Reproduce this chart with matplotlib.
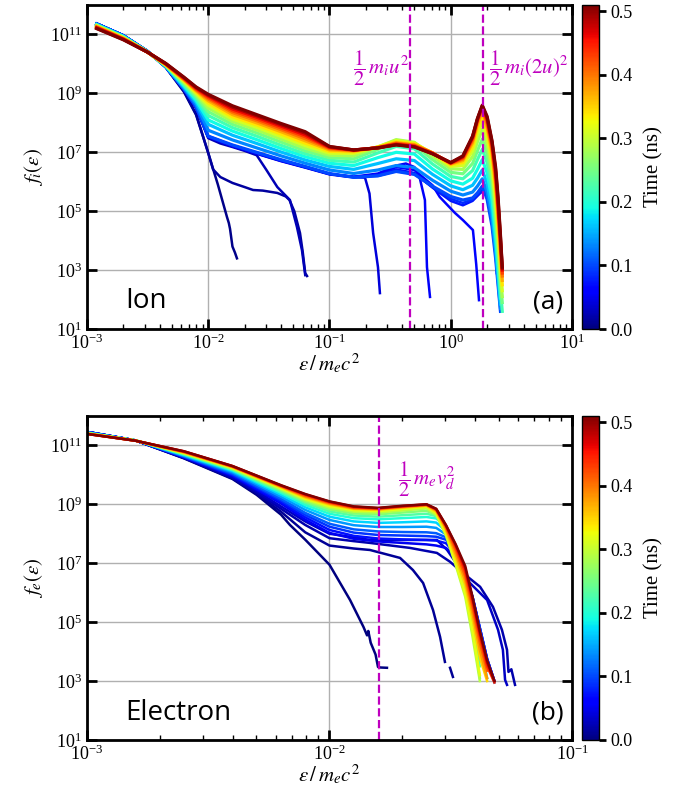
import numpy as np
import matplotlib
matplotlib.use("Agg")
import matplotlib.pyplot as plt
from matplotlib.colors import Normalize
from matplotlib.cm import ScalarMappable
from matplotlib.ticker import NullLocator

plt.rcParams['font.family'] = ['Liberation Serif', 'DejaVu Serif']
plt.rcParams['mathtext.fontset'] = 'stix'

t_max = 0.51

# ---------------- ion spectra (log10 values) ----------------
ion_grid = [-2.92, -2.7, -2.5, -2.35, -2.2, -2.1, -2.0, -1.8, -1.6, -1.4, -1.2, -1.0, -0.8, -0.6,
            -0.45, -0.3, -0.15, 0.0, 0.1, 0.18, 0.22, 0.26, 0.3, 0.34, 0.37, 0.39, 0.41, 0.425]
ion_times = [0.10, 0.13, 0.16, 0.19, 0.22, 0.25, 0.28, 0.31, 0.34, 0.37, 0.40, 0.43, 0.46, 0.49, 0.51]
nan = np.nan
ion_rows = [
    [11.36, 10.96, 10.42, 9.90, 9.15, 8.55, 7.55, 7.25, 7.00, 6.75, 6.52, 6.28, 6.15, 6.20, 6.35, 6.25, 5.85, 5.50, 5.38, 5.45, 5.62, 5.85, 5.40, 4.50, 3.40, 2.50, 1.60, nan],
    [11.35, 10.95, 10.42, 9.91, 9.18, 8.62, 7.75, 7.42, 7.15, 6.88, 6.63, 6.40, 6.28, 6.40, 6.55, 6.48, 6.05, 5.68, 5.55, 5.65, 5.85, 6.10, 5.65, 4.75, 3.60, 2.65, 1.70, nan],
    [11.34, 10.94, 10.42, 9.92, 9.22, 8.70, 7.95, 7.58, 7.30, 7.01, 6.74, 6.52, 6.42, 6.62, 6.78, 6.72, 6.25, 5.86, 5.73, 5.88, 6.12, 6.40, 5.95, 5.05, 3.85, 2.85, 1.85, nan],
    [11.33, 10.93, 10.41, 9.93, 9.26, 8.77, 8.10, 7.72, 7.43, 7.13, 6.85, 6.63, 6.55, 6.82, 7.00, 6.94, 6.43, 6.03, 5.92, 6.12, 6.42, 6.75, 6.30, 5.40, 4.15, 3.10, 2.05, nan],
    [11.32, 10.92, 10.41, 9.94, 9.30, 8.84, 8.25, 7.84, 7.55, 7.24, 6.95, 6.73, 6.67, 6.98, 7.20, 7.12, 6.60, 6.18, 6.10, 6.38, 6.75, 7.10, 6.65, 5.75, 4.50, 3.40, 2.30, 1.60],
    [11.31, 10.91, 10.41, 9.95, 9.34, 8.90, 8.38, 7.95, 7.66, 7.35, 7.05, 6.82, 6.78, 7.10, 7.35, 7.26, 6.75, 6.32, 6.27, 6.62, 7.05, 7.45, 6.95, 6.05, 4.80, 3.70, 2.55, 1.90],
    [11.30, 10.90, 10.40, 9.95, 9.38, 8.96, 8.50, 8.05, 7.76, 7.45, 7.14, 6.90, 6.88, 7.18, 7.43, 7.34, 6.87, 6.44, 6.42, 6.85, 7.35, 7.78, 7.25, 6.35, 5.10, 4.00, 2.80, 2.10],
    [11.29, 10.89, 10.40, 9.96, 9.41, 9.01, 8.60, 8.13, 7.85, 7.54, 7.23, 6.97, 6.96, 7.19, 7.40, 7.32, 6.95, 6.52, 6.55, 7.05, 7.60, 8.05, 7.50, 6.60, 5.40, 4.30, 3.05, 2.30],
    [11.28, 10.88, 10.40, 9.97, 9.44, 9.05, 8.68, 8.21, 7.93, 7.62, 7.31, 7.03, 7.01, 7.18, 7.36, 7.29, 6.98, 6.57, 6.65, 7.20, 7.80, 8.25, 7.70, 6.82, 5.65, 4.55, 3.30, 2.50],
    [11.27, 10.87, 10.40, 9.98, 9.46, 9.09, 8.75, 8.28, 8.00, 7.70, 7.39, 7.08, 7.04, 7.17, 7.33, 7.26, 6.98, 6.60, 6.72, 7.32, 7.94, 8.38, 7.85, 7.00, 5.88, 4.80, 3.55, 2.65],
    [11.25, 10.86, 10.40, 9.99, 9.48, 9.12, 8.81, 8.35, 8.07, 7.77, 7.46, 7.12, 7.06, 7.16, 7.31, 7.24, 6.98, 6.62, 6.77, 7.40, 8.03, 8.46, 7.97, 7.13, 6.05, 5.00, 3.75, 2.80],
    [11.24, 10.85, 10.40, 10.00, 9.50, 9.15, 8.86, 8.41, 8.13, 7.83, 7.53, 7.15, 7.07, 7.16, 7.29, 7.22, 6.97, 6.63, 6.81, 7.46, 8.08, 8.52, 8.06, 7.23, 6.20, 5.15, 3.90, 2.90],
    [11.23, 10.84, 10.40, 10.00, 9.52, 9.18, 8.91, 8.47, 8.19, 7.89, 7.59, 7.17, 7.08, 7.15, 7.27, 7.20, 6.96, 6.64, 6.84, 7.50, 8.11, 8.56, 8.13, 7.31, 6.32, 5.28, 4.02, 3.00],
    [11.21, 10.83, 10.40, 10.01, 9.54, 9.20, 8.94, 8.53, 8.24, 7.94, 7.65, 7.19, 7.08, 7.15, 7.26, 7.19, 6.95, 6.65, 6.86, 7.53, 8.13, 8.58, 8.18, 7.36, 6.42, 5.40, 4.12, 3.05],
    [11.20, 10.82, 10.40, 10.02, 9.55, 9.22, 8.97, 8.58, 8.28, 7.98, 7.70, 7.20, 7.08, 7.15, 7.25, 7.18, 6.95, 6.65, 6.88, 7.55, 8.15, 8.60, 8.22, 7.40, 6.50, 5.50, 4.20, 3.10],
]

# early ion spectra with low-energy cut-offs
ion_early_times = [0.005, 0.015, 0.025, 0.04, 0.055, 0.065, 0.075, 0.085]
ion_early_x = [
    [-2.92, -2.7, -2.5, -2.35, -2.2, -2.1, -2.0, -1.92, -1.845, -1.83, -1.82, -1.80, -1.78, -1.763],
    [-2.92, -2.7, -2.5, -2.35, -2.2, -2.1, -2.0, -1.96, -1.9, -1.8, -1.7, -1.63, -1.55, -1.43, -1.36, -1.33, -1.29, -1.243, -1.22, -1.2, -1.185],
    [-2.92, -2.7, -2.5, -2.35, -2.2, -2.1, -2.0, -1.9, -1.8, -1.7, -1.6, -1.52, -1.43, -1.326, -1.268, -1.227, -1.2],
    [-2.92, -2.7, -2.5, -2.35, -2.2, -2.1, -2.0, -1.8, -1.6, -1.4, -1.2, -1.0, -0.85, -0.707, -0.67, -0.64, -0.6, -0.584],
    [-2.92, -2.7, -2.5, -2.35, -2.2, -2.1, -2.0, -1.8, -1.6, -1.4, -1.2, -1.0, -0.8, -0.6, -0.45, -0.37, -0.3, -0.254, -0.213, -0.196, -0.171],
    [-2.92, -2.7, -2.5, -2.35, -2.2, -2.1, -2.0, -1.8, -1.6, -1.4, -1.2, -1.0, -0.8, -0.6, -0.45, -0.3, -0.15, -0.09, 0.035, 0.1, 0.183, 0.21, 0.233],
    [-2.92, -2.7, -2.5, -2.35, -2.2, -2.1, -2.0, -1.8, -1.6, -1.4, -1.2, -1.0, -0.8, -0.6, -0.45, -0.3, -0.15, 0.0, 0.1, 0.18, 0.24, 0.3, 0.32, 0.34, 0.35],
    [-2.92, -2.7, -2.5, -2.35, -2.2, -2.1, -2.0, -1.8, -1.6, -1.4, -1.2, -1.0, -0.8, -0.6, -0.45, -0.3, -0.15, 0.0, 0.1, 0.18, 0.24, 0.3, 0.33, 0.36, 0.38],
]
ion_early_y = [
    [11.37, 10.97, 10.44, 9.88, 9.05, 8.27, 6.98, 5.9, 4.8, 4.6, 4.4, 3.8, 3.6, 3.4],
    [11.37, 10.97, 10.44, 9.89, 9.08, 8.30, 6.98, 6.42, 6.16, 5.96, 5.82, 5.72, 5.70, 5.62, 5.50, 5.38, 5.00, 4.26, 3.60, 2.90, 2.80],
    [11.37, 10.97, 10.43, 9.90, 9.12, 8.50, 7.48, 7.30, 7.18, 7.05, 6.90, 6.40, 5.82, 5.38, 4.46, 3.68, 2.83],
    [11.37, 10.97, 10.43, 9.90, 9.13, 8.52, 7.52, 7.20, 6.95, 6.70, 6.48, 6.25, 6.17, 6.14, 5.60, 4.26, 3.10, 2.22],
    [11.37, 10.97, 10.43, 9.90, 9.13, 8.52, 7.52, 7.21, 6.96, 6.71, 6.49, 6.26, 6.17, 6.28, 6.55, 6.62, 6.50, 6.10, 5.38, 3.10, 2.09],
    [11.37, 10.97, 10.43, 9.90, 9.14, 8.53, 7.53, 7.22, 6.97, 6.72, 6.50, 6.27, 6.16, 6.24, 6.50, 6.40, 5.88, 5.48, 4.94, 4.70, 4.36, 3.20, 1.98],
    [11.37, 10.97, 10.43, 9.90, 9.14, 8.54, 7.54, 7.23, 6.98, 6.73, 6.51, 6.27, 6.16, 6.22, 6.42, 6.30, 5.80, 5.35, 5.20, 5.35, 5.60, 5.80, 5.82, 5.00, 4.26],
    [11.37, 10.97, 10.43, 9.90, 9.15, 8.55, 7.55, 7.24, 6.99, 6.74, 6.51, 6.27, 6.15, 6.20, 6.36, 6.26, 5.82, 5.42, 5.28, 5.40, 5.65, 5.85, 5.95, 4.50, 2.90],
]

# ---------------- electron spectra ----------------
ele_grid = [-3.0, -2.8, -2.6, -2.4, -2.2, -2.1, -2.0, -1.9, -1.8, -1.7, -1.6, -1.56, -1.52, -1.48,
            -1.44, -1.41, -1.38, -1.35, -1.32]
ele_times = [0.05, 0.07, 0.09, 0.11, 0.14, 0.17, 0.20, 0.23, 0.26, 0.29, 0.32, 0.35, 0.38, 0.41, 0.44, 0.47, 0.51]
ele_rows = [
    [11.46, 11.17, 10.60, 9.97, 9.03, 8.48, 8.03, 7.83, 7.74, 7.69, 7.64, 7.60, 7.52, 7.25, 6.60, 5.85, 4.80, 3.75, 3.00],
    [11.46, 11.17, 10.61, 9.99, 9.08, 8.56, 8.13, 7.93, 7.84, 7.81, 7.79, 7.77, 7.68, 7.32, 6.62, 5.85, 4.80, 3.75, 3.00],
    [11.45, 11.17, 10.62, 10.02, 9.14, 8.64, 8.24, 8.04, 7.96, 7.94, 7.92, 7.90, 7.80, 7.38, 6.65, 5.85, 4.80, 3.75, 3.00],
    [11.45, 11.17, 10.63, 10.05, 9.19, 8.71, 8.34, 8.15, 8.08, 8.06, 8.05, 8.02, 7.88, 7.42, 6.65, 5.80, 4.70, 3.65, 2.95],
    [11.44, 11.17, 10.65, 10.09, 9.26, 8.81, 8.47, 8.29, 8.23, 8.23, 8.24, 8.20, 7.98, 7.45, 6.62, 5.70, 4.55, 3.45, nan],
    [11.43, 11.17, 10.67, 10.13, 9.33, 8.90, 8.58, 8.42, 8.37, 8.39, 8.42, 8.38, 8.10, 7.48, 6.55, 5.55, 4.30, 3.10, nan],
    [11.43, 11.17, 10.69, 10.16, 9.39, 8.98, 8.68, 8.53, 8.49, 8.53, 8.57, 8.52, 8.28, 7.55, 6.45, 5.30, 3.90, nan, nan],
    [11.42, 11.17, 10.70, 10.18, 9.44, 9.05, 8.76, 8.62, 8.58, 8.63, 8.68, 8.60, 8.20, 7.35, 6.25, 5.00, 3.50, nan, nan],
    [11.42, 11.17, 10.72, 10.20, 9.48, 9.10, 8.83, 8.69, 8.66, 8.72, 8.78, 8.63, 8.05, 7.10, 6.00, 4.70, 3.10, nan, nan],
    [11.41, 11.17, 10.73, 10.22, 9.52, 9.15, 8.89, 8.75, 8.72, 8.79, 8.86, 8.65, 7.95, 6.95, 5.85, 4.50, 3.00, nan, nan],
    [11.41, 11.17, 10.74, 10.24, 9.55, 9.19, 8.94, 8.80, 8.77, 8.84, 8.91, 8.70, 8.00, 7.00, 5.95, 4.70, 3.20, nan, nan],
    [11.40, 11.16, 10.76, 10.26, 9.58, 9.23, 8.99, 8.84, 8.81, 8.88, 8.95, 8.75, 8.12, 7.20, 6.25, 5.10, 3.80, 3.00, nan],
    [11.40, 11.16, 10.77, 10.27, 9.60, 9.26, 9.02, 8.86, 8.83, 8.90, 8.97, 8.79, 8.18, 7.32, 6.40, 5.30, 4.05, 3.10, nan],
    [11.40, 11.16, 10.78, 10.28, 9.62, 9.29, 9.05, 8.88, 8.85, 8.92, 8.98, 8.81, 8.23, 7.45, 6.55, 5.50, 4.30, 3.35, nan],
    [11.39, 11.16, 10.79, 10.29, 9.63, 9.32, 9.07, 8.90, 8.86, 8.93, 8.99, 8.83, 8.27, 7.55, 6.70, 5.65, 4.50, 3.50, 2.95],
    [11.39, 11.16, 10.80, 10.30, 9.64, 9.34, 9.09, 8.92, 8.87, 8.94, 9.00, 8.84, 8.29, 7.62, 6.82, 5.78, 4.62, 3.62, 3.00],
    [11.39, 11.16, 10.80, 10.30, 9.65, 9.35, 9.10, 8.93, 8.88, 8.95, 9.00, 8.85, 8.30, 7.65, 6.90, 5.85, 4.70, 3.70, 3.00],
]

ele_early_times = [0.0, 0.01, 0.02, 0.03]
ele_early_x = [
    [-3.0, -2.8, -2.6, -2.4, -2.3, -2.2, -2.163, -2.1, -2.0, -1.915, -1.86, -1.845, -1.84, -1.83, -1.81, -1.80, -1.79, -1.763],
    [-3.0, -2.8, -2.6, -2.4, -2.3, -2.2, -2.1, -2.0, -1.9, -1.833, -1.709, -1.656, -1.614, -1.573, -1.544, -1.524, nan, -1.503, -1.491],
    [-3.0, -2.8, -2.6, -2.4, -2.3, -2.2, -2.1, -2.0, -1.9, -1.833, -1.668, -1.557, -1.503, -1.45, -1.379, -1.326, -1.289, -1.268, -1.262, -1.25, -1.235],
    [-3.0, -2.8, -2.6, -2.4, -2.3, -2.2, -2.1, -2.0, -1.9, -1.833, -1.7, -1.557, -1.515, -1.421, -1.35, -1.305, -1.285, -1.276, -1.268],
]
ele_early_y = [
    [11.46, 11.17, 10.56, 9.86, 9.32, 8.65, 8.30, 7.80, 6.95, 5.75, 4.84, 4.55, 4.70, 4.30, 3.90, 3.48, 3.46, 3.45],
    [11.46, 11.17, 10.57, 9.88, 9.36, 8.75, 8.05, 7.60, 7.50, 7.45, 7.18, 6.77, 6.33, 5.41, 4.50, 3.65, nan, 3.45, 3.14],
    [11.46, 11.17, 10.58, 9.90, 9.40, 8.85, 8.30, 7.85, 7.75, 7.69, 7.52, 7.35, 7.05, 6.67, 6.20, 5.52, 4.74, 4.06, 3.31, 3.40, 2.87],
    [11.46, 11.17, 10.59, 9.93, 9.45, 8.93, 8.42, 8.00, 7.88, 7.79, 7.79, 7.79, 7.45, 6.33, 5.75, 4.74, 4.06, 3.04, 2.87],
]

# energy markers and their labels (label left edge given in data units)
ion_marks = [0.465, 1.86]
ion_mark_labels = [r'$\dfrac{1}{2}\,m_i u^2$', r'$\dfrac{1}{2}\,m_i(2u)^2$']
ion_label_x = [0.156, 2.07]
ele_marks = [0.016]
ele_mark_labels = [r'$\dfrac{1}{2}\,m_e v_d^2$']
ele_label_x = [0.0192]
label_y = 7e9

cmap = plt.get_cmap('jet')
norm = Normalize(0, t_max)


def style_axis(ax, xlim):
    ax.set_xscale('log')
    ax.set_yscale('log')
    ax.set_xlim(*xlim)
    ax.set_ylim(1e1, 1e12)
    ax.set_yticks([1e1, 1e3, 1e5, 1e7, 1e9, 1e11])
    ax.yaxis.set_minor_locator(NullLocator())
    ax.grid(True, which='major', color='#b0b0b0', lw=1.0)
    ax.set_axisbelow(True)
    ax.tick_params(which='major', direction='in', length=7, width=2, top=True, right=True, labelsize=13)
    ax.tick_params(which='minor', direction='in', length=3.5, width=1, top=True, right=True)
    for s in ax.spines.values():
        s.set_linewidth(2)
    ax.set_xlabel(r'$\varepsilon\,/\,m_ec^2$', fontsize=15, labelpad=-1)


def draw_curves(ax, early_t, early_x, early_y, grid, times, rows, lw):
    for t, xs, ys in zip(early_t, early_x, early_y):
        ax.plot(10 ** np.array(xs), 10 ** np.array(ys), color=cmap(norm(t)), lw=1.8)
    gx = 10 ** np.array(grid)
    for t, ys in zip(times, rows):
        ax.plot(gx, 10 ** np.array(ys), color=cmap(norm(t)), lw=lw)


fig = plt.figure(figsize=(6.9, 7.99), dpi=100)
ax1 = fig.add_axes([0.126, 0.5882, 0.703, 0.4055])
ax2 = fig.add_axes([0.126, 0.0739, 0.703, 0.4055])
cax1 = fig.add_axes([0.8435, 0.5882, 0.0246, 0.4055])
cax2 = fig.add_axes([0.8435, 0.0739, 0.0246, 0.4055])

sans = ['Open Sans', 'DejaVu Sans']

# (a) ions
draw_curves(ax1, ion_early_times, ion_early_x, ion_early_y, ion_grid, ion_times, ion_rows, 2.3)
style_axis(ax1, (1e-3, 1e1))
ax1.set_ylabel(r'$f_i(\varepsilon)$', fontsize=15)
for xm, lab, xl in zip(ion_marks, ion_mark_labels, ion_label_x):
    ax1.axvline(xm, color='m', ls='--', lw=1.6)
    ax1.text(xl, label_y, lab, color='m', fontsize=15, va='center', ha='left')
ax1.text(0.08, 0.085, 'Ion', transform=ax1.transAxes, fontsize=20, family=sans, va='center', ha='left')
ax1.text(0.982, 0.083, '(a)', transform=ax1.transAxes, fontsize=19, family=sans, va='center', ha='right')

# (b) electrons
draw_curves(ax2, ele_early_times, ele_early_x, ele_early_y, ele_grid, ele_times, ele_rows, 1.8)
style_axis(ax2, (1e-3, 1e-1))
ax2.set_ylabel(r'$f_e(\varepsilon)$', fontsize=15)
for xm, lab, xl in zip(ele_marks, ele_mark_labels, ele_label_x):
    ax2.axvline(xm, color='m', ls='--', lw=1.6)
    ax2.text(xl, label_y, lab, color='m', fontsize=15, va='center', ha='left')
ax2.text(0.08, 0.083, 'Electron', transform=ax2.transAxes, fontsize=20, family=sans, va='center', ha='left')
ax2.text(0.982, 0.083, '(b)', transform=ax2.transAxes, fontsize=19, family=sans, va='center', ha='right')

sm = ScalarMappable(norm=norm, cmap=cmap)
for cax in (cax1, cax2):
    cb = fig.colorbar(sm, cax=cax, ticks=[0.0, 0.1, 0.2, 0.3, 0.4, 0.5])
    cb.ax.set_yticklabels(['0.0', '0.1', '0.2', '0.3', '0.4', '0.5'])
    cb.ax.tick_params(direction='out', length=5, width=2, labelsize=13)
    cb.set_label('Time (ns)', fontsize=15, labelpad=8)
    cb.outline.set_linewidth(1)

fig.savefig('out.png', dpi=100)
